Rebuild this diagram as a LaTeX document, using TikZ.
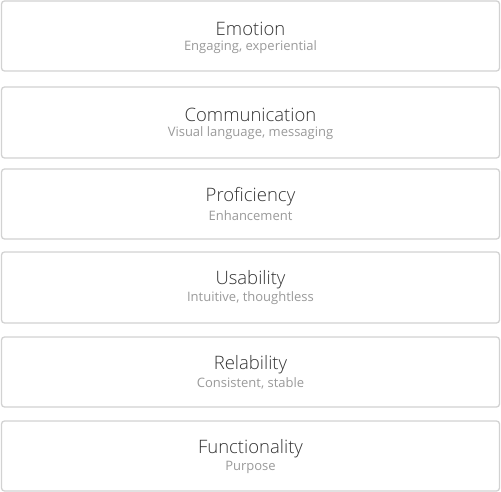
\documentclass[tikz,border=0pt]{standalone}
\usepackage{fontspec}
\setmainfont{Open Sans}
\newfontfamily\lightfont{Open Sans Light}
\definecolor{boxline}{HTML}{D2D2D2}
\definecolor{titlecol}{HTML}{333333}
\definecolor{subcol}{HTML}{9A9A9A}
\begin{document}
\begin{tikzpicture}[x=1pt,y=-1pt,
  layer/.style={draw=boxline,line width=1.3pt,rounded corners=3pt,fill=white},
  ttl/.style={font=\lightfont\fontsize{18.5}{20}\selectfont,text=titlecol,inner sep=0pt,anchor=center},
  sub/.style={font=\fontsize{13}{15}\selectfont,text=subcol,inner sep=0pt,anchor=center}]
\useasboundingbox (0,0) rectangle (501,492);
\foreach \n/\t/\b/\T/\S in {
  a/1/71/Emotion/{Engaging, experiential},
  b/87/158/Communication/{Visual language, messaging},
  c/169/239/Proficiency/Enhancement,
  d/252/323/Usability/{Intuitive, thoughtless},
  e/337/407/Relability/{Consistent, stable},
  f/421/491/Functionality/Purpose}{
  \draw[layer] (1.5,\t) rectangle (499.5,\b);
  \node[ttl] (t\n) at (250.5,{\t+28}) {\T};
  \node[sub] (s\n) at (250.5,{\t+46.5}) {\S};
}
\end{tikzpicture}
\end{document}
